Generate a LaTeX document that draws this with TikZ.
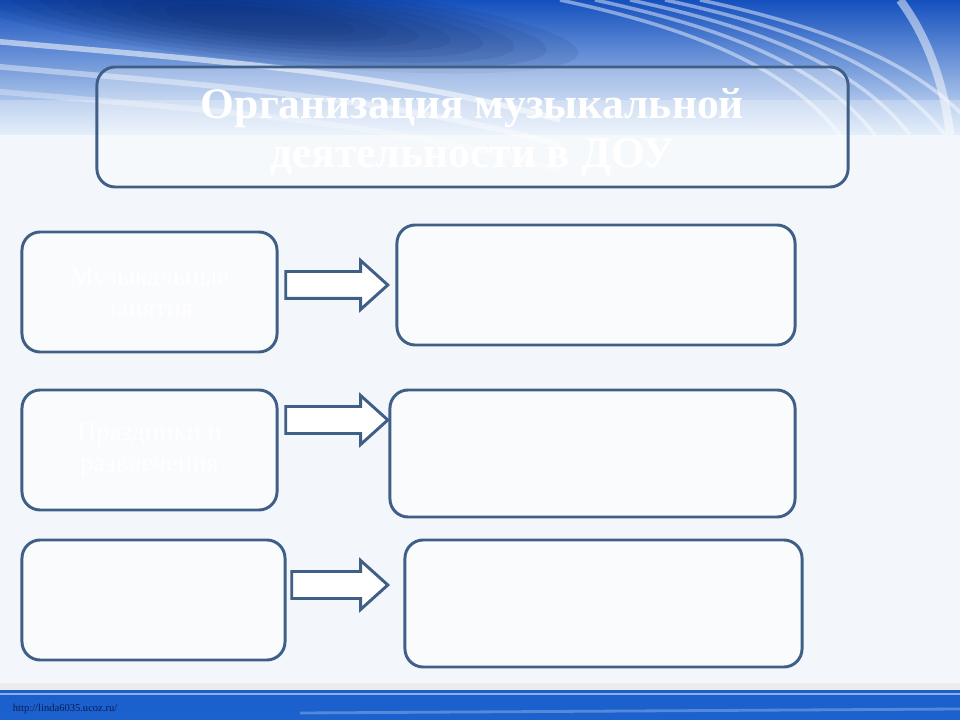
\documentclass[tikz,border=0pt]{standalone}
\usepackage{fontspec}
\setmainfont{Liberation Serif}
\usepackage{xcolor}
\usetikzlibrary{positioning,shapes.arrows}

\definecolor{framecol}{HTML}{3F5F86}
\definecolor{pagecol}{HTML}{F3F7FB}
\definecolor{bandtop}{HTML}{1450BE}
\definecolor{bandmid}{HTML}{4D8EE2}
\definecolor{bandlow}{HTML}{DCEAF9}
\definecolor{navycol}{HTML}{07215E}
\definecolor{bartop}{HTML}{1A5FCB}
\definecolor{barmid}{HTML}{0A3790}
\definecolor{barlow}{HTML}{1C62CE}
\definecolor{linkcol}{HTML}{0A1C52}

\begin{document}
\begin{tikzpicture}[x=0.025cm, y=-0.025cm,
            every node/.append style = {align = center},
            panel/.style = {draw = framecol, line width = 2.1pt, rounded corners = 13pt,
                            fill = white, fill opacity = .6, text opacity = 1,
                            text = white, minimum height = 3cm},
            blockarrow/.style = {single arrow, draw = framecol, line width = 2.1pt, fill = white,
                            inner xsep = 0pt, inner ysep = 0.3cm, single arrow head extend = 0.275cm,
                            single arrow tip angle = 84, anchor = tip}]
        \useasboundingbox (0,0) rectangle (960,720);
        \clip (0,0) rectangle (960,720);
        % background
        \fill[pagecol] (0,0) rectangle (960,720);
        \fill[top color = bandtop, middle color = bandmid, bottom color = bandlow] (0,0) rectangle (960,135);
        \foreach \r in {1.0, 0.9, 0.8, 0.7, 0.6, 0.5, 0.4, 0.3} {
            \fill[navycol, opacity = .09, rotate around = {-6:(260,20)}] (260,20) ellipse [x radius = 320*\r, y radius = 42*\r];
        }
        \foreach \s/\o in {0/.55, 25/.4, 50/.3} {
            \draw[white, opacity = \o, line width = 4pt] (-20,40+\s) .. controls (200,60+\s) and (380,70+\s) .. (560,120+\s);
        }
        \foreach \s in {0, 35, 70, 105, 140} {
            \draw[white, opacity = .45, line width = 2.5pt] (560+\s,0) .. controls (700+\s,30) and (790+\s,70) .. (840+\s,135);
        }
        \draw[white, opacity = .5, line width = 6pt] (900,0) .. controls (930,40) and (945,90) .. (950,135);
        \fill[white, opacity = .25] (0,100) rectangle (960,135);
        % bottom bar
        \fill[gray!15] (0,683) rectangle (960,690);
        \fill[top color = bartop, middle color = barmid, bottom color = barlow] (0,690) rectangle (960,720);
        \draw[white, opacity = .5, line width = 1pt] (0,694) -- (960,694);
        \draw[white, opacity = .25, line width = 2pt] (300,713) -- (960,709);
        \node[text = linkcol, font = \fontsize{7.5}{8}\selectfont, anchor = west] (nlink) at (8,709) {http://linda6035.ucoz.ru/};
        % title
        \node[panel, fill opacity = .3, minimum width = 18.775cm] (ntitle) at (472.5,127) {};
        \node[text = white, font = \fontsize{31}{35}\selectfont\bfseries] (ntitletext) at (472.5,133)
                {Организация музыкальной\\деятельности в ДОУ};
        % left column
        \node[panel, minimum width = 6.375cm, font = \fontsize{19}{22}\selectfont] (nl1) at (149.5,292) {Музыкальные\\занятия};
        \node[panel, minimum width = 6.375cm, font = \fontsize{19}{22}\selectfont] (nl2) at (149.5,450) {Праздники и\\развлечения};
        \node[panel, minimum width = 6.575cm] (nl3) at (153.5,600) {};
        % right column
        \node[panel, minimum width = 9.95cm] (nr1) at (596,285) {};
        \node[panel, minimum width = 10.125cm, minimum height = 3.175cm] (nr2) at (592.5,453.5) {};
        \node[panel, minimum width = 9.925cm, minimum height = 3.175cm] (nr3) at (603.5,603.5) {};
        % arrows
        \node[blockarrow, minimum height = 2.55cm] (na1) at (390,285) {};
        \node[blockarrow, minimum height = 2.55cm] (na2) at (390,420) {};
        \node[blockarrow, minimum height = 2.4cm] (na3) at (390,585) {};
\end{tikzpicture}
\end{document}
